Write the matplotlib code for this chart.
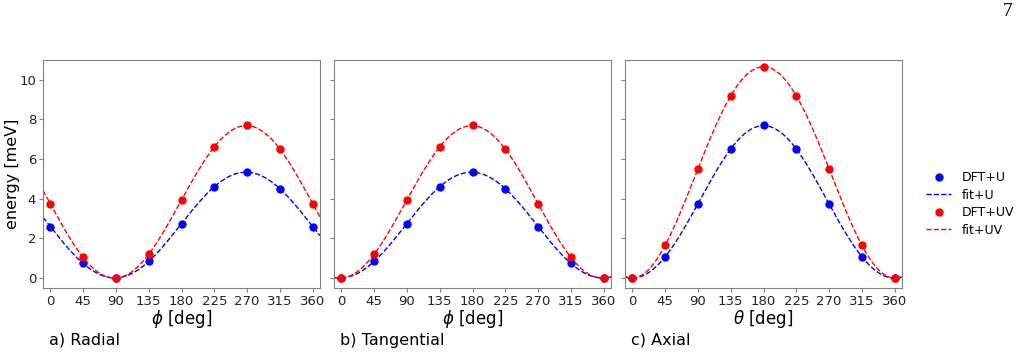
import numpy as np
import matplotlib
matplotlib.use("Agg")
import matplotlib.pyplot as plt

angles = [0, 45, 90, 135, 180, 225, 270, 315, 360]

radial_u = [2.6, 0.75, 0.0, 0.85, 2.75, 4.6, 5.35, 4.5, 2.6]
radial_uv = [3.75, 1.05, 0.0, 1.2, 3.95, 6.6, 7.7, 6.5, 3.75]
tang_u = [0.0, 0.85, 2.75, 4.6, 5.35, 4.5, 2.6, 0.75, 0.0]
tang_uv = [0.0, 1.2, 3.95, 6.6, 7.7, 6.5, 3.75, 1.05, 0.0]
axial_u = [0.0, 1.07, 3.75, 6.5, 7.7, 6.5, 3.75, 1.07, 0.0]
axial_uv = [0.0, 1.65, 5.5, 9.2, 10.65, 9.2, 5.5, 1.65, 0.0]

panels = [
    ("a) Radial", r"$\phi$ [deg]", radial_u, radial_uv),
    ("b) Tangential", r"$\phi$ [deg]", tang_u, tang_uv),
    ("c) Axial", r"$\theta$ [deg]", axial_u, axial_uv),
]

xticks = [0, 45, 90, 135, 180, 225, 270, 315, 360]
yticks = [0, 2, 4, 6, 8, 10]


def fourier_fit(x, y, xs, nh=2):
    x = np.radians(np.asarray(x, float))
    xs = np.radians(xs)
    def basis(t):
        cols = [np.ones_like(t)]
        for k in range(1, nh + 1):
            cols += [np.cos(k * t), np.sin(k * t)]
        return np.column_stack(cols)
    coef, *_ = np.linalg.lstsq(basis(x), np.asarray(y, float), rcond=None)
    return basis(xs) @ coef


fig = plt.figure(figsize=(10.21, 3.55), dpi=100)
lefts = [43 / 1021, 334 / 1021, 625 / 1021]
w = 277 / 1021
bottom = 1 - 288 / 355
h = 228 / 355
xs = np.linspace(-10, 370, 400)
spine_c = "#808080"

axes = []
for i, (lab, xl, yu, yuv) in enumerate(panels):
    ax = fig.add_axes([lefts[i], bottom, w, h])
    axes.append(ax)
    ax.plot(angles, yu, "o", color="blue", ms=5, label="DFT+U")
    ax.plot(xs, fourier_fit(angles, yu, xs), "--", color="blue", lw=1, label="fit+U")
    ax.plot(angles, yuv, "o", color="red", ms=5, label="DFT+UV")
    ax.plot(xs, fourier_fit(angles, yuv, xs), "--", color="red", lw=1, label="fit+UV")
    ax.set_xlim(-10, 370)
    ax.set_ylim(-0.5, 11)
    ax.set_xticks(xticks)
    ax.set_yticks(yticks)
    ax.tick_params(labelsize=9.5, colors="#222222", color=spine_c, length=3, pad=2)
    for s in ax.spines.values():
        s.set_color(spine_c)
    ax.set_xlabel(xl, fontsize=12, labelpad=0)
    if i == 0:
        ax.set_ylabel("energy [meV]", fontsize=11.5)
        ax.yaxis.set_label_coords(-23 / 277, 0.5)
    else:
        ax.set_yticklabels([])
    fig.text(lefts[i] + 6 / 1021, 1 - 340 / 355, lab, fontsize=11.5, va="center", ha="left")

handles, labels = axes[2].get_legend_handles_labels()
fig.legend(handles, labels, loc="center left", bbox_to_anchor=(915 / 1021, 1 - 204 / 355),
           frameon=False, fontsize=9, labelspacing=0.35)

fig.text(1008 / 1021, 1 - 12 / 355, "7", fontsize=14, family="Liberation Serif", ha="center", va="center")

fig.savefig("out.png", dpi=100)
